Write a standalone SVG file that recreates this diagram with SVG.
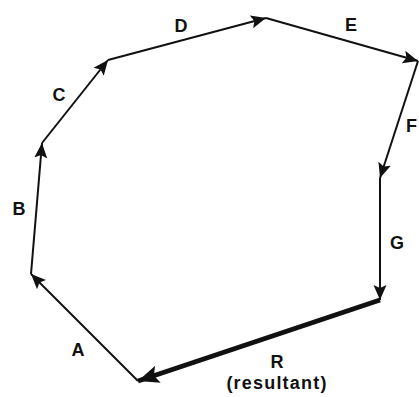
<svg xmlns="http://www.w3.org/2000/svg" width="419" height="397" viewBox="0 0 419 397">
<style>
.v{stroke:#111;stroke-width:2;fill:none;marker-end:url(#ah)}
.r{stroke:#111;stroke-width:5;fill:none;marker-end:url(#ahr)}
text{font-family:"Liberation Sans",Arial,sans-serif;font-size:18px;font-weight:bold;fill:#111;text-anchor:middle}
</style>
<defs>
<marker id="ah" markerUnits="userSpaceOnUse" markerWidth="16" markerHeight="14" refX="15" refY="6.5" orient="auto" viewBox="0 0 16 13">
<path d="M0,0 L15,6.5 L0,13 L3,6.5 Z" fill="#111"/>
</marker>
<marker id="ahr" markerUnits="userSpaceOnUse" markerWidth="22" markerHeight="18" refX="20" refY="8.5" orient="auto" viewBox="0 0 21 17">
<path d="M0,0 L20,8.5 L0,17 L4,8.5 Z" fill="#111"/>
</marker>
</defs>
<rect width="419" height="397" fill="#fff"/>
<g id="connectors">
<line id="A" class="v" x1="138" y1="381" x2="31" y2="274"/>
<line id="B" class="v" x1="31" y1="274" x2="42" y2="143"/>
<line id="C" class="v" x1="42" y1="143" x2="108" y2="60"/>
<line id="D" class="v" x1="108" y1="60" x2="266" y2="18"/>
<line id="E" class="v" x1="266" y1="18" x2="418" y2="61"/>
<line id="F" class="v" x1="418" y1="61" x2="380" y2="178"/>
<line id="G" class="v" x1="380" y1="178" x2="380" y2="300"/>
<line id="R" class="r" x1="380" y1="300" x2="138" y2="381"/>
</g>
<g id="labels">
<text id="lA" x="78" y="356">A</text>
<text id="lB" x="19" y="215">B</text>
<text id="lC" x="59" y="101">C</text>
<text id="lD" x="181" y="32">D</text>
<text id="lE" x="351" y="31">E</text>
<text id="lF" x="406" y="132" style="text-anchor:start">F</text>
<text id="lG" x="397" y="249">G</text>
<text id="lR" x="277" y="368">R</text>
<text id="lRes" x="277" y="389" style="letter-spacing:1.2px">(resultant)</text>
</g>
</svg>
